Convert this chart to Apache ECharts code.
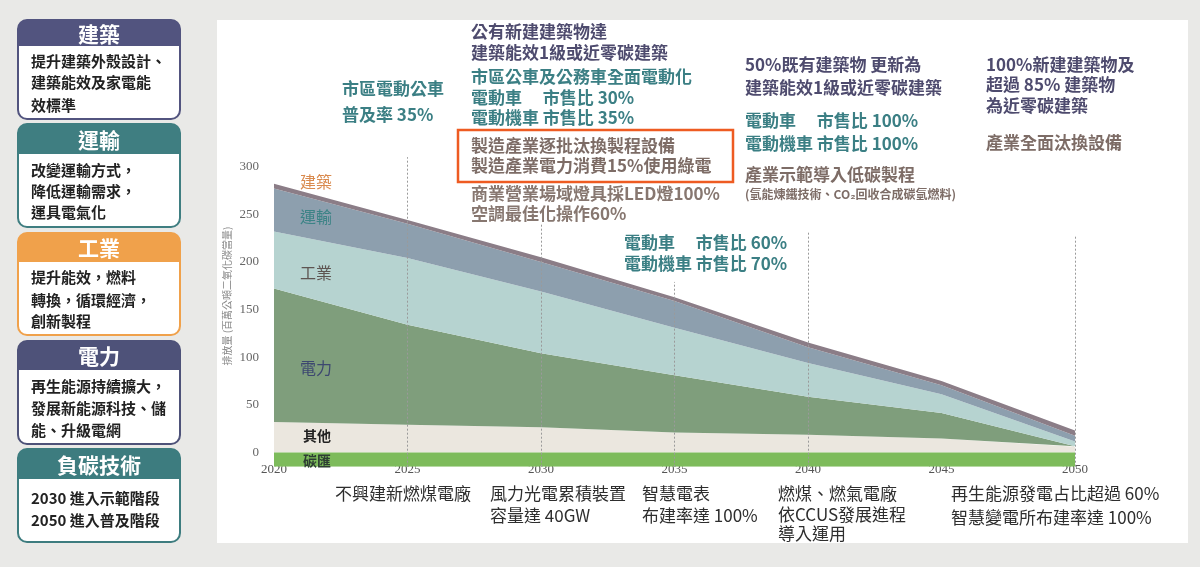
<!DOCTYPE html>
<html>
<head>
<meta charset="utf-8">
<script src="https://cdn.jsdelivr.net/npm/echarts@6/dist/echarts.min.js"></script>
<style>
html,body{margin:0;padding:0;background:#e9e9e7;}
#c{width:1200px;height:567px;}
</style>
</head>
<body>
<div id="c"></div>
<script>
// ---- data ----
const years = ['2020', '2025', '2030', '2035', '2040', '2045', '2050'];
const otherVals = [32, 29, 26.5, 21, 18.5, 14.5, 6];
const powerVals = [140, 105, 77.5, 60, 40, 27, 0.5];
const industryVals = [60, 70, 65, 50, 35.5, 19.5, 5];
const transportVals = [45, 36, 31, 28, 16.5, 9.5, 6];
const buildingVals = [5, 4, 5, 4, 5, 4.5, 5.5];
const sinkVals = [-15, -15, -15, -15, -15, -15, -15];
const yTickLabels = [0, 50, 100, 150, 200, 250, 300];
const guideYears = ['2025', '2030', '2035', '2040', '2050'];
const guideTops = [310, 241, 179, 231, 227];
const guideBottom = -15;

const layerNames = ['其他', '電力', '工業', '運輸', '建築'];
const layerVals = [otherVals, powerVals, industryVals, transportVals, buildingVals];
const layerColors = ['#ebe7df', '#7f9e7c', '#b6d3d0', '#8d9fae', '#8b7d87'];

const FONT = '"Noto Sans CJK TC","Noto Sans CJK SC",sans-serif';

const series = layerNames.map((n, i) => ({
  name: n, type: 'line', stack: 'total', data: layerVals[i],
  showSymbol: false, symbol: 'none', smooth: false,
  lineStyle: { width: 0 }, areaStyle: { color: layerColors[i], opacity: 1 },
  itemStyle: { color: layerColors[i] }, z: 2
}));
series.push({
  name: '碳匯', type: 'line', data: sinkVals, showSymbol: false, symbol: 'none',
  lineStyle: { width: 0 }, areaStyle: { color: '#7dbb5b', opacity: 1 }, z: 2,
  markLine: {
    silent: true, symbol: 'none', label: { show: false },
    lineStyle: { color: '#9a9a9a', type: [2, 2], width: 1 },
    data: guideYears.map((gy, i) => [{ coord: [gy, guideBottom] }, { coord: [gy, guideTops[i]] }])
  }
});

// ---- decorations ----
const g = [];
g.push({ type: 'rect', z: -100, shape: { x: 217, y: 20, width: 971, height: 523 }, style: { fill: '#ffffff' } });

function txt(text, x, y, opts) {
  opts = opts || {};
  g.push({
    type: 'text', z: 100, x: x, y: y, rotation: opts.rotation || 0,
    style: {
      text: text, fill: opts.color || '#333',
      font: (opts.weight || 'bold') + ' ' + (opts.size || 17) + 'px ' + (opts.family || FONT),
      align: opts.align || 'left', verticalAlign: 'middle'
    }
  });
}

const boxes = [
  { title: '建築', color: '#52547f', top: 20, hb: 46, bottom: 119, lines: ['提升建築外殼設計、', '建築能效及家電能', '效標準'], ly: [61.7, 82.7, 105] },
  { title: '運輸', color: '#3f7e81', top: 124, hb: 154, bottom: 227, lines: ['改變運輸方式，', '降低運輸需求，', '運具電氣化'], ly: [170, 191, 212.7] },
  { title: '工業', color: '#f0a14b', top: 233, hb: 262, bottom: 335, lines: ['提升能效，燃料', '轉換，循環經濟，', '創新製程'], ly: [277, 300, 321.7] },
  { title: '電力', color: '#4e5279', top: 341, hb: 370, bottom: 444, lines: ['再生能源持續擴大，', '發展新能源科技、儲', '能、升級電網'], ly: [386.7, 408.3, 430] },
  { title: '負碳技術', color: '#3d7c7f', top: 449, hb: 479, bottom: 542, lines: ['2030 進入示範階段', '2050 進入普及階段'], ly: [498.3, 520] }
];
boxes.forEach(b => {
  g.push({ type: 'rect', z: -50, shape: { x: 18, y: b.top, width: 162, height: b.bottom - b.top, r: 9 },
    style: { fill: '#ffffff', stroke: b.color, lineWidth: 2 } });
  g.push({ type: 'rect', z: -49, shape: { x: 18, y: b.top, width: 162, height: b.hb - b.top, r: [9, 9, 0, 0] },
    style: { fill: b.color } });
  txt(b.title, 99, (b.top + b.hb) / 2 + 1, { color: '#ffffff', size: 21, align: 'center' });
  b.lines.forEach((l, i) => txt(l, 31, b.ly[i], { color: '#222', size: 15 }));
});

// layer labels in chart
txt('建築', 300, 182, { color: '#d98a4e', size: 16, weight: 'normal' });
txt('運輸', 300, 217, { color: '#3c8386', size: 16, weight: 'normal' });
txt('工業', 300, 273, { color: '#5e5552', size: 16, weight: 'normal' });
txt('電力', 300, 368, { color: '#3d4870', size: 16, weight: 'normal' });
txt('其他', 303, 436, { color: '#222', size: 14 });
txt('碳匯', 303, 461, { color: '#2d3d33', size: 14 });

// y axis title
txt('排放量 (百萬公噸二氧化碳當量)', 227, 296, { color: '#888', size: 10, weight: 'normal', align: 'center', rotation: Math.PI / 2 });

// top annotations
const cPurple = '#4e4b6e', cTeal = '#3b7f84', cInd = '#7d6c66', cCom = '#877770';
txt('市區電動公車', 342, 89, { color: cTeal });
txt('普及率 35%', 342, 115, { color: cTeal });
txt('公有新建建築物達', 471, 32, { color: cPurple });
txt('建築能效1級或近零碳建築', 471, 53, { color: cPurple });
txt('市區公車及公務車全面電動化', 471, 77, { color: cTeal });
txt('電動車　 市售比 30%', 471, 98, { color: cTeal });
txt('電動機車 市售比 35%', 471, 118, { color: cTeal });
g.push({ type: 'rect', z: 100, shape: { x: 458, y: 130, width: 275, height: 52 },
  style: { fill: 'none', stroke: '#ee5b22', lineWidth: 2.5 } });
txt('製造產業逐批汰換製程設備', 471, 146, { color: cInd });
txt('製造產業電力消費15%使用綠電', 471, 166, { color: cInd });
txt('商業營業場域燈具採LED燈100%', 471, 194, { color: cCom });
txt('空調最佳化操作60%', 471, 214, { color: cCom });

txt('電動車　 市售比 60%', 624, 243, { color: cTeal });
txt('電動機車 市售比 70%', 624, 264, { color: cTeal });

txt('50%既有建築物 更新為', 745, 65, { color: cPurple });
txt('建築能效1級或近零碳建築', 745, 88, { color: cPurple });
txt('電動車　 市售比 100%', 745, 121, { color: cTeal });
txt('電動機車 市售比 100%', 745, 144, { color: cTeal });
txt('產業示範導入低碳製程', 745, 175, { color: cInd });
txt('(氫能煉鐵技術、CO₂回收合成碳氫燃料)', 745, 194, { color: cInd, size: 12 });

txt('100%新建建築物及', 986, 65, { color: cPurple });
txt('超過 85% 建築物', 986, 85, { color: cPurple });
txt('為近零碳建築', 986, 106, { color: cPurple });
txt('產業全面汰換設備', 986, 143, { color: cInd });

// bottom annotations
const cBot = '#2e2e2e';
txt('不興建新燃煤電廠', 335, 494, { color: cBot, weight: 'normal' });
txt('風力光電累積裝置', 490, 494, { color: cBot, weight: 'normal' });
txt('容量達 40GW', 490, 516, { color: cBot, weight: 'normal' });
txt('智慧電表', 642, 494, { color: cBot, weight: 'normal' });
txt('布建率達 100%', 642, 516, { color: cBot, weight: 'normal' });
txt('燃煤、燃氣電廠', 778, 494, { color: cBot, weight: 'normal' });
txt('依CCUS發展進程', 778, 515, { color: cBot, weight: 'normal' });
txt('導入運用', 778, 534, { color: cBot, weight: 'normal' });
txt('再生能源發電占比超過 60%', 951, 494, { color: cBot, weight: 'normal' });
txt('智慧變電所布建率達 100%', 951, 518, { color: cBot, weight: 'normal' });

const chart = echarts.init(document.getElementById('c'), null, { renderer: 'canvas' });
chart.setOption({
  animation: false,
  backgroundColor: 'transparent',
  grid: { left: 274, right: 125, top: 152.4, bottom: 100.3, containLabel: false },
  xAxis: {
    type: 'category', data: years, boundaryGap: false,
    axisLine: { show: false }, axisTick: { show: false }, splitLine: { show: false },
    axisLabel: { interval: 0, margin: -4, color: '#555', fontSize: 13, fontFamily: '"Liberation Serif","DejaVu Serif",serif' }
  },
  yAxis: {
    type: 'value', min: -15, max: 315, interval: 5,
    axisLine: { show: false }, axisTick: { show: false }, splitLine: { show: false },
    axisLabel: {
      margin: 15, color: '#666', fontSize: 13, fontFamily: '"Liberation Serif","DejaVu Serif",serif',
      formatter: v => (yTickLabels.indexOf(Math.round(v)) >= 0 && Math.abs(v - Math.round(v)) < 1e-6) ? String(Math.round(v)) : ''
    }
  },
  series: series,
  graphic: { elements: g }
});
</script>
</body>
</html>
